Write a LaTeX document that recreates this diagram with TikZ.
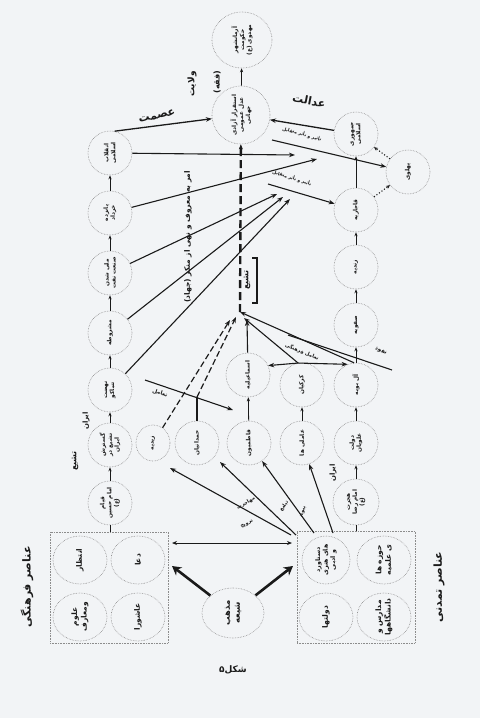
\documentclass[tikz,border=0pt]{standalone}
\usepackage{fontspec}
\newfontfamily\fa[Script=Arabic]{DejaVu Sans}
\TeXXeTstate=1
\usetikzlibrary{arrows.meta,shapes.geometric}
\newcommand\RL[1]{\beginR #1\endR}
\definecolor{bgc}{HTML}{F2F4F6}
\definecolor{ink}{HTML}{1A1A1A}
\definecolor{dotc}{HTML}{8C8C8C}
\tikzset{
 cir/.style={ellipse, draw=dotc, densely dotted, line width=0.6pt, inner sep=0pt},
 box/.style={rectangle, draw=dotc, densely dotted, line width=0.6pt, inner sep=0pt},
 ctext/.style={font=\fa\bfseries\fontsize{5.8}{7}\selectfont, align=center, text=ink, inner sep=0pt},
 btext/.style={font=\fa\bfseries\fontsize{7.5}{9.5}\selectfont, align=center, text=ink, inner sep=0pt},
 lab/.style={font=\fa\bfseries\fontsize{#1}{#1}\selectfont, text=ink, inner sep=0pt},
 ln/.style={draw=ink, line width=1.1pt},
 ar/.style={draw=ink, line width=1.1pt, -{Stealth[length=6pt,width=4.5pt]}},
 sar/.style={draw=ink, line width=0.8pt, -{Stealth[length=4pt,width=3.2pt]}},
 dar/.style={draw=ink, line width=1.2pt, dash pattern=on 6pt off 3pt, -{Stealth[length=6pt,width=4.5pt]}},
 dotar/.style={draw=ink, line width=1.1pt, dotted, -{Stealth[length=4pt,width=3.5pt]}},
 bigar/.style={draw=ink, line width=2.6pt, -{Stealth[length=9pt,width=10pt]}},
 cdash/.style={draw=ink, line width=2.4pt, dash pattern=on 8pt off 4pt, -{Stealth[length=5pt,width=4pt,line width=0.6pt]}},
 dbl/.style={draw=ink, line width=1pt, {Stealth[length=5pt,width=4pt]}-{Stealth[length=5pt,width=4pt]}}
}
\newcommand\cn[5]{\node[cir, minimum width=#3pt, minimum height=#4pt] (#1) at (#2) {};
 \node[ctext, rotate=90] at (#1) {#5};}
\newcommand\bn[5]{\node[cir, minimum width=#3pt, minimum height=#4pt] (#1) at (#2) {};
 \node[btext, rotate=90] at (#1) {#5};}
\begin{document}
\begin{tikzpicture}[x=1pt,y=-1pt]
\fill[bgc] (0,0) rectangle (480,718);
\useasboundingbox (0,0) rectangle (480,718);

% top
\cn{top}{242,40}{60}{56}{\RL{آرمانشهر}\\\RL{حکومت}\\\RL{مهدوی (ع)}}
\cn{cen}{241,115}{58}{58}{\RL{استقرار آزادی}\\\RL{عدل عمومی}\\\RL{جهانی}}

% left column
\cn{l1}{110,503}{44}{44}{\RL{قیام}\\\RL{امام حسین}\\\RL{(ع)}}
\cn{l2}{110,445}{44}{44}{\RL{گسترش}\\\RL{تشیع در}\\\RL{ایران}}
\cn{l3}{110,390}{44}{44}{\RL{نهضت}\\\RL{تنباکو}}
\cn{l4}{110,333}{44}{44}{\RL{مشروطه}}
\cn{l5}{110,273}{44}{44}{\RL{ملی شدن}\\\RL{صنعت نفت}}
\cn{l6}{110,213}{44}{44}{\RL{پانزده}\\\RL{خرداد}}
\cn{l7}{110,153}{44}{44}{\RL{انقلاب}\\\RL{اسلامی}}

% right column
\cn{r1}{356,502}{46}{46}{\RL{هجرت}\\\RL{امام رضا}\\\RL{(ع)}}
\cn{r2}{356,443}{44}{44}{\RL{دولت}\\\RL{علویان}}
\cn{r3}{356,385}{44}{44}{\RL{آل بویه}}
\cn{r4}{356,325}{44}{44}{\RL{صفویه}}
\cn{r5}{356,267}{44}{44}{\RL{زندیه}}
\cn{r6}{356,210}{44}{44}{\RL{قاجاریه}}
\cn{r7}{356,134}{44}{44}{\RL{جمهوری}\\\RL{اسلامی}}
\cn{pah}{408,172}{44}{44}{\RL{پهلوی}}

% middle
\cn{zay}{153,443}{34}{36}{\RL{زیدیه}}
\cn{ham}{197,443}{44}{44}{\RL{حمدانیان}}
\cn{fat}{249,443}{44}{44}{\RL{فاطمیون}}
\cn{ame}{302,443}{44}{44}{\RL{عاملی ها}}
\cn{ism}{248,375}{44}{44}{\RL{اسماعیلیه}}
\cn{kar}{302,385}{44}{44}{\RL{کرکیان}}

% boxes
\node[box, minimum width=118pt, minimum height=111pt] (boxL) at (109,587.5) {};
\node[box, minimum width=118pt, minimum height=112pt] (boxR) at (356,587) {};
\bn{bl1}{80,560}{54}{48}{\RL{انتظار}}
\bn{bl2}{138,560}{54}{48}{\RL{دعا}}
\bn{bl3}{80,617}{54}{48}{\RL{علوم}\\\RL{ومعارف}}
\bn{bl4}{138,617}{54}{48}{\RL{عاشورا}}
\node[cir, minimum width=48pt, minimum height=48pt] (br1) at (326,560) {};
\node[ctext, font=\fa\bfseries\fontsize{6.3}{7.6}\selectfont, rotate=90] at (br1) {\RL{دستاورد}\\\RL{های هنری}\\\RL{و ادبی}};
\bn{br2}{384,560}{54}{48}{\RL{حوزه ها}\\\RL{ی علمیه}}
\bn{br3}{326,617}{54}{48}{\RL{دولتها}}
\bn{br4}{384,617}{54}{48}{\RL{مدارس و}\\\RL{دانشگاهها}}
\node[cir, minimum width=62pt, minimum height=50pt] (mad) at (233,613) {};
\node[btext, font=\fa\bfseries\fontsize{8.5}{10}\selectfont, rotate=90] at (mad) {\RL{مذهب}\\\RL{شیعه}};

% coordinates
\coordinate (C) at (240,312);
\coordinate (Ca) at (230,320);
\coordinate (Cb) at (236,317);
\coordinate (Cc) at (247,320);
\coordinate (Cd) at (244,318);
\coordinate (hk) at (197,397);
\coordinate (P1) at (288,335);
\coordinate (P2) at (392,370);
\coordinate (A1) at (295,155);
\coordinate (A2) at (317,159);
\coordinate (A3) at (277,194);
\coordinate (A4) at (283,197);
\coordinate (A5) at (290,199);
\coordinate (Q0) at (268,184);
\coordinate (H0) at (272,140);
\coordinate (X1) at (145,380);
\coordinate (X2) at (233,410);
\coordinate (S1) at (291,535);
\coordinate (S2) at (296,535);
\coordinate (S3) at (314,533);
\coordinate (S4) at (333,533);
\coordinate (Z1) at (170,468);
\coordinate (Z2) at (220,462);
\coordinate (T1) at (172,566);
\coordinate (T2) at (293,566);
\coordinate (D1) at (172,543);
\coordinate (D2) at (292,543);

% column stubs
\foreach \a/\b in {l1/l2,l2/l3,l3/l4,l4/l5,l5/l6,l6/l7,r1/r2,r2/r3,r3/r4,r4/r5,r5/r6,r6/r7,fat/ism,ame/kar,cen/top}
 \draw[sar] (\a) -- (\b);
\draw[ln, line width=0.8pt] (boxL.north -| l1) -- (l1);
\draw[ln, line width=0.8pt] (boxR.north -| r1) -- (r1);

% central dashed
\draw[cdash] (C) -- (cen);

% into convergence
\draw[dar] (zay) -- (Ca);
\draw[ln] (ham) -- (hk);
\draw[dar] (hk) -- (Cb);
\draw[ar] (ism) -- (Cc);
\draw[ar] (kar.100) -- (Cd);
\draw[ar] (kar.100) -- (ism.25);
\draw[ar] (kar.100) -- (r3.112);
\draw[ar] (r3.95) -- (C);
\draw[ln] (P1) -- (P2);

% left column to upper right
\draw[ar] (l7) -- (A1);
\draw[ar] (l6) -- (A2);
\draw[ar] (l5) -- (A3);
\draw[ar] (l4) -- (A4);
\draw[ar] (l3) -- (A5);
\draw[ar] (Q0) -- (r6);
\draw[ar] (H0) -- (pah);
\draw[ar] (X1) -- (X2);

% top arrows
\draw[ar, line width=1.3pt] (l7.78) -- (cen);
\draw[ar, line width=1.3pt] (r7) -- (cen);
\draw[dotar] (pah) -- (r7);
\draw[dotar] (r6) -- (pah);

% from civilisation box
\draw[ar] (S1) -- (Z1);
\draw[ar] (S2) -- (Z2);
\draw[ar] (S3) -- (fat);
\draw[ar] (S4) -- (ame);

% bottom
\draw[bigar] (mad) -- (T1);
\draw[bigar] (mad) -- (T2);
\draw[dbl] (D1) -- (D2);

% bracket
\draw[ln] (252,258) -- (257,258) -- (257,303) -- (252,303);

% labels
\node[lab=11, rotate=13] at (157,116) {\RL{عصمت}};
\node[lab=11, rotate=-11] at (309,101) {\RL{عدالت}};
\node[lab=9, rotate=90] at (192,84) {\RL{ولایت}};
\node[lab=8, rotate=90] at (217,82) {\RL{(فقه)}};
\node[lab=7.5, rotate=90] at (188,237) {\RL{امر به معروف و نهی از منکر (جهاد)}};
\node[lab=8, rotate=90] at (247,280) {\RL{تشیع}};
\node[lab=7, rotate=90] at (86,421) {\RL{ایران}};
\node[lab=8, rotate=90] at (75,461) {\RL{تشیع}};
\node[lab=7, rotate=90] at (333,473) {\RL{ایران}};
\node[lab=4.5, rotate=-17] at (292,178) {\RL{تأثیر و تأثر متقابل}};
\node[lab=4.5, rotate=-16] at (302,134) {\RL{تأثیر و تأثر متقابل}};
\node[lab=5, rotate=-22] at (302,352) {\RL{تعامل فرهنگی}};
\node[lab=5.5, rotate=-20] at (381,351) {\RL{نفوذ}};
\node[lab=5.5, rotate=-18] at (160,393) {\RL{تعامل}};
\node[lab=5, rotate=30] at (246,503) {\RL{مهاجرت}};
\node[lab=5, rotate=52] at (284,506) {\RL{تبلیغ}};
\node[lab=5, rotate=28] at (247,524) {\RL{ترویج}};
\node[lab=5, rotate=70] at (303,512) {\RL{پیوند}};
\node[lab=11, rotate=90] at (27,587) {\RL{عناصر فرهنگی}};
\node[lab=11, rotate=90] at (439,587) {\RL{عناصر تمدنی}};
\node[lab=9] at (233,670) {\RL{شکل۵}};
\end{tikzpicture}
\end{document}
